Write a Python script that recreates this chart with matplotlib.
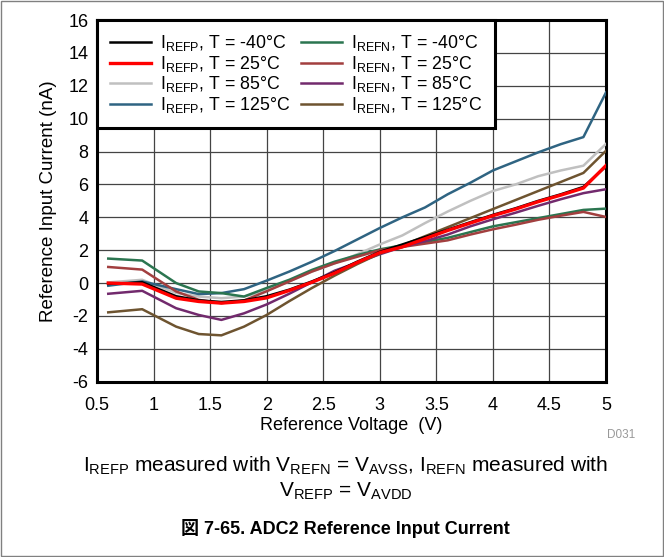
import matplotlib
matplotlib.use('Agg')
import matplotlib.pyplot as plt
from matplotlib.patches import Rectangle

plt.rcParams['font.family'] = ['Liberation Sans', 'Noto Sans CJK JP']
plt.rcParams['mathtext.fontset'] = 'custom'
plt.rcParams['mathtext.rm'] = 'Liberation Sans'
plt.rcParams['axes.unicode_minus'] = False

# reference voltage (V)
vref = [0.6, 0.9, 1.2, 1.4, 1.6, 1.8, 2.0, 2.2, 2.4, 2.6, 2.8, 3.0, 3.2, 3.4,
        3.6, 3.8, 4.0, 4.2, 4.4, 4.6, 4.8, 5.0]

# IREFP (nA)
refp_m40 = [-0.05, 0.05, -0.8, -1.05, -1.15, -1.05, -0.8, -0.4, 0.1, 0.65, 1.3,
            1.9, 2.35, 2.8, 3.25, 3.7, 4.15, 4.55, 5.0, 5.4, 5.85, 7.1]
refp_25 = [0.0, -0.06, -0.92, -1.12, -1.22, -1.12, -0.9, -0.45, 0.05, 0.6, 1.25,
           1.85, 2.2, 2.7, 3.2, 3.65, 4.1, 4.5, 4.95, 5.35, 5.78, 7.15]
refp_85 = [0.04, 0.2, -0.6, -0.82, -0.92, -0.82, -0.45, 0.1, 0.7, 1.2, 1.75,
           2.35, 2.9, 3.65, 4.35, 5.0, 5.6, 6.0, 6.5, 6.85, 7.14, 8.47]
refp_125 = [-0.16, 0.1, -0.37, -0.67, -0.61, -0.37, 0.15, 0.7, 1.3, 1.95, 2.65,
            3.35, 4.0, 4.6, 5.4, 6.1, 6.85, 7.4, 7.95, 8.45, 8.88, 11.6]

# IREFN (nA)
refn_m40 = [1.49, 1.37, 0.0, -0.51, -0.61, -0.82, -0.3, 0.2, 0.8, 1.3, 1.7,
            2.05, 2.3, 2.5, 2.75, 3.1, 3.45, 3.7, 3.95, 4.2, 4.45, 4.53]
refn_25 = [0.98, 0.82, -0.51, -1.02, -1.22, -1.06, -0.5, 0.1, 0.7, 1.2, 1.6,
           2.0, 2.2, 2.4, 2.6, 2.95, 3.27, 3.55, 3.85, 4.1, 4.33, 4.02]
refn_85 = [-0.65, -0.47, -1.53, -1.94, -2.24, -1.84, -1.3, -0.65, 0.05, 0.75,
           1.25, 1.75, 2.2, 2.55, 2.95, 3.45, 3.88, 4.28, 4.7, 5.1, 5.47, 5.71]
refn_125 = [-1.78, -1.59, -2.65, -3.1, -3.18, -2.65, -1.94, -1.1, -0.3, 0.45,
            1.15, 1.8, 2.3, 2.85, 3.4, 3.95, 4.5, 5.05, 5.6, 6.15, 6.7, 8.05]

x_ticks = [0.5, 1, 1.5, 2, 2.5, 3, 3.5, 4, 4.5, 5]
y_ticks = list(range(-6, 17, 2))

series = [
    (refp_m40, r'$\mathregular{I_{REFP}}$, T = -40°C', '#000000', 1.8),
    (refp_25, r'$\mathregular{I_{REFP}}$, T = 25°C', '#ff0000', 2.4),
    (refp_85, r'$\mathregular{I_{REFP}}$, T = 85°C', '#c0c0c0', 1.8),
    (refp_125, r'$\mathregular{I_{REFP}}$, T = 125°C', '#2f6482', 1.8),
    (refn_m40, r'$\mathregular{I_{REFN}}$, T = -40°C', '#2b7550', 1.8),
    (refn_25, r'$\mathregular{I_{REFN}}$, T = 25°C', '#a23f3f', 1.8),
    (refn_85, r'$\mathregular{I_{REFN}}$, T = 85°C', '#722a6d', 1.8),
    (refn_125, r'$\mathregular{I_{REFN}}$, T = 125°C', '#6e5430', 1.8),
]

fig = plt.figure(figsize=(6.64, 5.57), dpi=100)
fig.patches.append(Rectangle((0.001, 0.001), 0.997, 0.997, transform=fig.transFigure,
                             fill=False, edgecolor='#808080', lw=1))
ax = fig.add_axes([0.146, 0.3147, 0.7667, 0.6493])

order = [2, 3, 4, 5, 6, 7, 0, 1]
lines = {}
for i in order:
    y, lbl, c, lw = series[i]
    lines[i], = ax.plot(vref, y, color=c, lw=lw, label=lbl, zorder=3)

ax.set_xlim(0.5, 5)
ax.set_ylim(-6, 16)
ax.set_xticks(x_ticks)
ax.set_xticklabels([f'{t:g}' for t in x_ticks])
ax.set_yticks(y_ticks)
ax.tick_params(length=0, labelsize=13)
ax.tick_params(axis='x', pad=11)
ax.tick_params(axis='y', pad=6)
ax.grid(True, color='#444444', lw=0.9)
ax.set_axisbelow(True)
for s in ax.spines.values():
    s.set_linewidth(2.2)

ax.set_xlabel('Reference Voltage  (V)', fontsize=13, labelpad=2)
ax.set_ylabel('Reference Input Current (nA)', fontsize=13.5, labelpad=8)

leg = ax.legend([lines[i] for i in range(8)], [series[i][1] for i in range(8)],
                loc='upper left', ncol=2, fontsize=12.8, borderaxespad=0,
                handlelength=2.3, handletextpad=0.5, columnspacing=0.6,
                labelspacing=0.03, fancybox=False, framealpha=1,
                borderpad=0.75)
leg.get_frame().set_edgecolor('black')
leg.get_frame().set_linewidth(2.2)

fig.text(0.957, 0.219, 'D031', fontsize=8.5, color='#999999', ha='right', va='center')
fig.text(0.52, 0.163,
         r'$\mathregular{I_{REFP}}$ measured with $\mathregular{V_{REFN}}$ = '
         r'$\mathregular{V_{AVSS}}$, $\mathregular{I_{REFN}}$ measured with',
         fontsize=15, ha='center', va='center')
fig.text(0.52, 0.117, r'$\mathregular{V_{REFP}}$ = $\mathregular{V_{AVDD}}$',
         fontsize=15, ha='center', va='center')
fig.text(0.52, 0.052, '図 7-65. ADC2 Reference Input Current',
         fontsize=13, fontweight='bold', ha='center', va='center')

fig.savefig('out.png', dpi=100)
